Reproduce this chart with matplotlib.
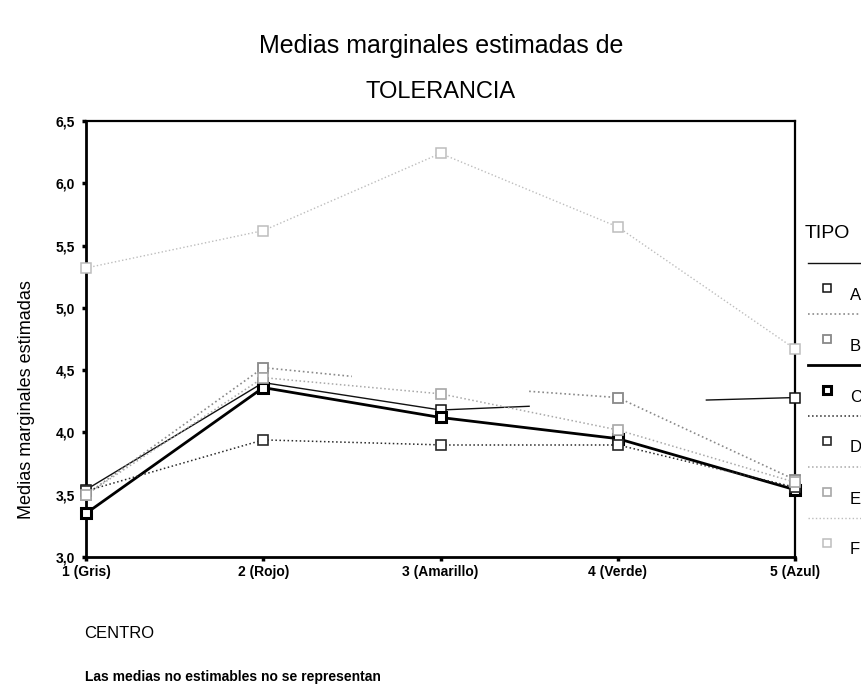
import numpy as np
import matplotlib
matplotlib.use("Agg")
import matplotlib.pyplot as plt
from matplotlib.lines import Line2D

plt.rcParams['font.family'] = ['Liberation Sans', 'DejaVu Sans']

# datos
centros = ['1 (Gris)', '2 (Rojo)', '3 (Amarillo)', '4 (Verde)', '5 (Azul)']
tipos = ['A', 'B', 'C', 'D', 'E', 'F']
media_A = [3.54, 4.40, 4.18, 4.24, 4.28]
media_B = [3.50, 4.52, 4.38, 4.28, 3.62]
media_C = [3.35, 4.36, 4.12, 3.95, 3.54]
media_D = [3.53, 3.94, 3.90, 3.90, 3.56]
media_E = [3.50, 4.44, 4.31, 4.02, 3.60]
media_F = [5.32, 5.62, 6.24, 5.65, 4.67]
# medias no estimables (no se representa el punto)
no_estim_A = [False, False, False, True, False]
no_estim_B = [False, False, True, False, False]

medias = [media_A, media_B, media_C, media_D, media_E, media_F]
no_estim = [no_estim_A, no_estim_B] + [[False] * 5] * 4

# estilo de cada TIPO
colores = ['#111111', '#8a8a8a', '#000000', '#2a2a2a', '#a8a8a8', '#bdbdbd']
estilos = ['-', ':', '-', ':', ':', ':']
grosor = [1.0, 1.2, 2.0, 1.1, 1.1, 1.0]

fig = plt.figure(figsize=(8.61, 6.93), dpi=100)
ax = fig.add_axes([86/861, 1-557/693, (795-86)/861, (557-121)/693])

x = np.arange(1, 6)
for k in range(len(tipos)):
    y = np.array(medias[k], dtype=float)
    oc = np.array(no_estim[k])
    for i in range(4):
        a, b = oc[i], oc[i+1]
        if a and b:
            continue
        x0, y0, x1, y1 = x[i], y[i], x[i+1], y[i+1]
        if a:   # medio tramo hacia el punto no estimable
            x0, y0 = (x0+x1)/2, (y0+y1)/2
        if b:
            x1, y1 = (x0+x1)/2, (y0+y1)/2
        ax.plot([x0, x1], [y0, y1], color=colores[k], ls=estilos[k],
                lw=grosor[k], clip_on=False, zorder=2)
    ax.plot(x[~oc], y[~oc], ls='none', marker='s', ms=7.5, mfc='white',
            mec=colores[k], mew=grosor[k]*1.1, clip_on=False, zorder=3)

ax.set_xlim(1, 5)
ax.set_ylim(3.0, 6.5)
ax.set_xticks(x)
ax.set_xticklabels(centros, fontweight='bold')
yt = np.arange(3.0, 6.51, 0.5)
ax.set_yticks(yt)
ax.set_yticklabels([('%.1f' % v).replace('.', ',') for v in yt], fontweight='bold')
ax.tick_params(axis='both', labelsize=10, width=2.5, length=3, color='black')
ax.tick_params(axis='y', pad=5)
ax.tick_params(axis='x', pad=3)
for s in ['left', 'bottom']:
    ax.spines[s].set_linewidth(2.0)
for s in ['top', 'right']:
    ax.spines[s].set_linewidth(1.6)
ax.set_ylabel('Medias marginales estimadas', fontsize=13)
ax.yaxis.set_label_coords(-0.072, 0.36)

fig.text(441/861, 1-46/693, 'Medias marginales estimadas de', fontsize=18,
         ha='center', va='center')
fig.text(441/861, 1-92/693, 'TOLERANCIA', fontsize=17, ha='center', va='center')
fig.text(84/861, 1-633/693, 'CENTRO', fontsize=12, ha='left', va='center')
fig.text(85/861, 1-677/693, 'Las medias no estimables no se representan',
         fontsize=10, fontweight='bold', ha='left', va='center')

# leyenda TIPO
fig.text(805/861, 1-233/693, 'TIPO', fontsize=14, ha='left', va='center')
for k, t in enumerate(tipos):
    yl = 263 + 51*k
    fig.add_artist(Line2D([808/861, 1.0], [1-yl/693, 1-yl/693],
                          color=colores[k], ls=estilos[k], lw=grosor[k]))
    fig.add_artist(Line2D([827/861], [1-(yl+25)/693], marker='s', ms=6,
                          mfc='white', mec=colores[k], mew=grosor[k]*1.1,
                          ls='none'))
    fig.text(850/861, 1-(yl+32)/693, t, fontsize=12, ha='left', va='center')

fig.savefig('out.png', dpi=100)
